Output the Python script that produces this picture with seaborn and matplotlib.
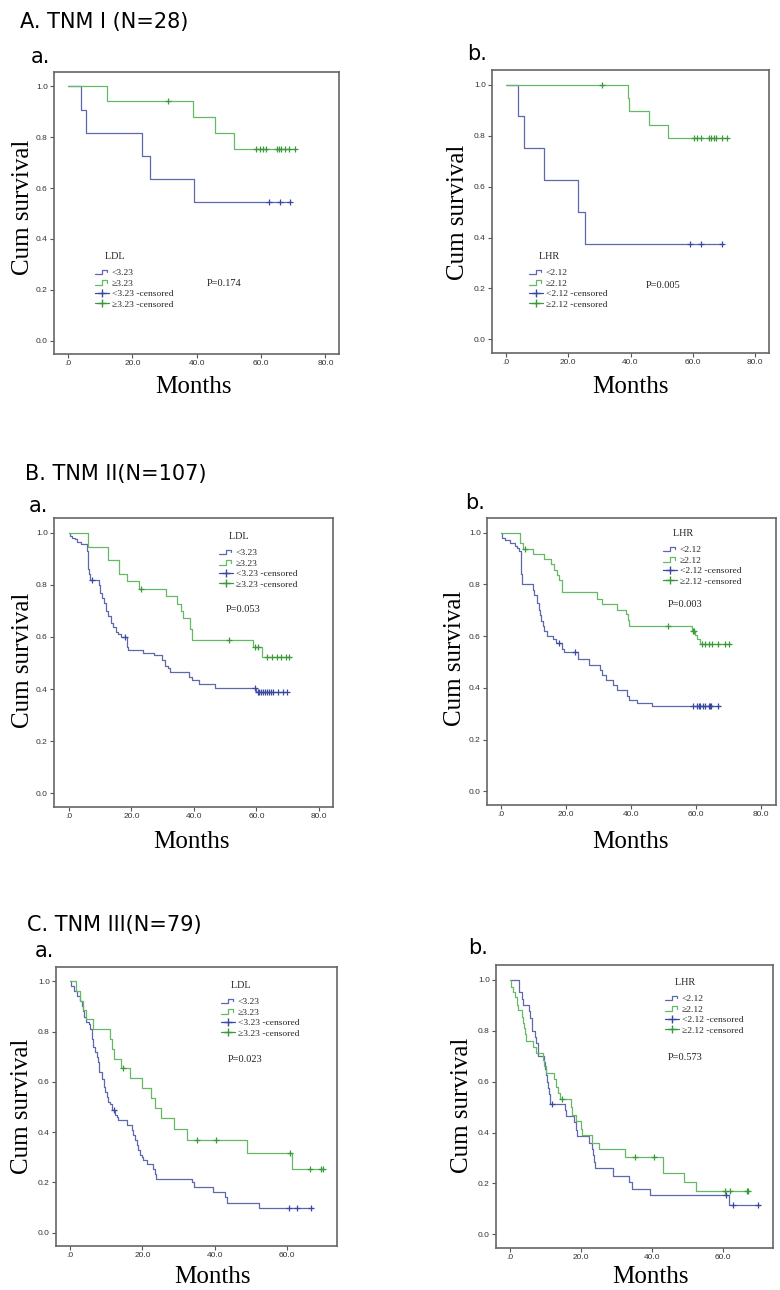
import numpy as np
import pandas as pd
import matplotlib
matplotlib.use("Agg")
import matplotlib.pyplot as plt
import seaborn as sns
from matplotlib.lines import Line2D
from matplotlib.legend_handler import HandlerBase

# ---------------- data ----------------
# Each curve: step start times, survival from that time on, censored times
A_ldl_low_t = [0, 3.9, 5.7, 23.1, 25.4, 39.1, 69.4]
A_ldl_low_s = [1.0, 0.909, 0.818, 0.727, 0.636, 0.545, 0.545]
A_ldl_low_c = [62.5, 66.0, 69.0]
A_ldl_high_t = [0, 12.2, 38.9, 45.7, 51.7, 70.8]
A_ldl_high_s = [1.0, 0.941, 0.878, 0.817, 0.754, 0.754]
A_ldl_high_c = [30.9, 58.5, 59.6, 60.6, 61.4, 64.8, 65.6, 66.3, 67.4, 68.7, 70.5]

A_lhr_low_t = [0, 4.0, 5.7, 12.3, 23.2, 25.5, 69.7]
A_lhr_low_s = [1.0, 0.875, 0.75, 0.625, 0.5, 0.375, 0.375]
A_lhr_low_c = [59.0, 62.8, 69.5]
A_lhr_high_t = [0, 39.1, 39.4, 46.0, 52.2, 71.3]
A_lhr_high_s = [1.0, 0.947, 0.895, 0.842, 0.790, 0.790]
A_lhr_high_c = [31.0, 60.4, 61.5, 62.8, 65.2, 66.0, 66.8, 67.6, 69.5, 71.0]

B_ldl_low_t = [0, 0.2, 0.9, 1.9, 2.7, 4.0, 5.9, 6.0, 6.3, 6.8, 9.6, 10.0, 10.5, 11.3, 11.9,
               12.6, 13.5, 14.2, 15.0, 15.8, 16.5, 18.5, 18.8, 23.8, 27.2, 29.7, 30.7, 31.8,
               32.3, 38.5, 39.3, 41.6, 46.7, 60.0, 69.9]
B_ldl_low_s = [1.0, 0.988, 0.982, 0.976, 0.966, 0.957, 0.93, 0.86, 0.84, 0.82, 0.80, 0.77, 0.75,
               0.73, 0.70, 0.68, 0.655, 0.64, 0.62, 0.61, 0.60, 0.56, 0.55, 0.54, 0.53, 0.51,
               0.49, 0.48, 0.465, 0.448, 0.435, 0.42, 0.405, 0.39, 0.39]
B_ldl_low_c = [7.5, 17.9, 59.5, 60.4, 60.9, 61.4, 62.2, 62.7, 63.3, 64.1, 64.6, 65.2, 67.0, 68.4, 69.7]
B_ldl_high_t = [0, 6.0, 12.4, 16.0, 18.5, 22.5, 31.0, 34.5, 35.7, 36.4, 38.6, 39.4, 58.8, 61.8, 71.0]
B_ldl_high_s = [1.0, 0.947, 0.894, 0.840, 0.815, 0.786, 0.757, 0.728, 0.70, 0.673, 0.63, 0.589,
                0.561, 0.525, 0.525]
B_ldl_high_c = [23.2, 51.3, 59.5, 60.5, 63.5, 65.0, 66.5, 68.0, 69.5, 70.5]

B_lhr_low_t = [0, 0.2, 1.2, 2.8, 4.3, 4.8, 5.6, 6.1, 6.5, 9.8, 10.2, 11.0, 11.7, 12.0, 12.2,
               12.8, 13.3, 14.1, 16.1, 16.9, 18.7, 19.3, 23.8, 27.1, 30.5, 31.0, 32.2, 34.6,
               35.6, 38.7, 39.5, 41.8, 46.6, 67.5]
B_lhr_low_s = [1.0, 0.98, 0.97, 0.96, 0.95, 0.94, 0.93, 0.84, 0.80, 0.78, 0.76, 0.73, 0.70,
               0.68, 0.66, 0.64, 0.62, 0.60, 0.59, 0.575, 0.55, 0.54, 0.51, 0.49, 0.47, 0.45,
               0.43, 0.41, 0.39, 0.37, 0.355, 0.34, 0.328, 0.328]
B_lhr_low_c = [18.0, 22.8, 59.0, 60.4, 60.8, 61.3, 62.1, 62.8, 63.9, 64.4, 64.6, 66.9]
B_lhr_high_t = [0, 5.9, 6.7, 9.8, 13.2, 15.3, 16.3, 17.1, 17.9, 18.9, 29.5, 31.0, 35.8, 38.5,
                39.0, 39.5, 58.9, 59.6, 60.2, 61.3, 70.7]
B_lhr_high_s = [1.0, 0.959, 0.939, 0.918, 0.898, 0.878, 0.857, 0.837, 0.816, 0.769, 0.745,
                0.724, 0.703, 0.684, 0.663, 0.640, 0.62, 0.605, 0.59, 0.569, 0.569]
B_lhr_high_c = [7.4, 51.3, 59.2, 59.5, 61.8, 62.8, 63.9, 64.9, 66.9, 69.0, 70.0]

C_ldl_low_t = [0, 0.2, 1.1, 2.0, 2.8, 3.2, 3.6, 3.9, 4.4, 5.1, 5.5, 6.0, 6.3, 6.9, 7.4, 7.8,
               8.1, 8.7, 9.4, 9.7, 10.1, 10.6, 11.0, 11.5, 12.4, 12.9, 13.3, 15.6, 17.0, 17.5,
               17.9, 18.4, 18.9, 19.3, 19.8, 20.2, 21.2, 23.0, 23.5, 23.7, 33.6, 34.2, 39.6,
               42.8, 43.4, 52.3, 67.2]
C_ldl_low_s = [1.0, 0.98, 0.96, 0.94, 0.92, 0.90, 0.88, 0.86, 0.84, 0.83, 0.81, 0.77, 0.74,
               0.72, 0.70, 0.68, 0.64, 0.61, 0.58, 0.56, 0.54, 0.52, 0.51, 0.49, 0.47, 0.46,
               0.45, 0.43, 0.41, 0.39, 0.37, 0.35, 0.33, 0.31, 0.30, 0.29, 0.275, 0.255, 0.235,
               0.215, 0.20, 0.18, 0.16, 0.14, 0.12, 0.10, 0.10]
C_ldl_low_c = [12.0, 60.5, 62.7, 66.7]
C_ldl_high_t = [0, 1.7, 2.6, 3.5, 4.4, 6.3, 11.0, 11.5, 12.0, 14.0, 16.6, 19.8, 22.3, 23.5,
                25.1, 28.8, 32.2, 48.8, 61.4, 69.9]
C_ldl_high_s = [1.0, 0.96, 0.92, 0.885, 0.85, 0.81, 0.77, 0.73, 0.69, 0.655, 0.615, 0.575,
                0.535, 0.495, 0.455, 0.412, 0.37, 0.318, 0.255, 0.255]
C_ldl_high_c = [14.5, 35.0, 40.3, 60.9, 66.2, 69.5, 69.8]

C_lhr_low_t = [0, 2.6, 3.3, 3.7, 5.4, 5.8, 6.1, 7.0, 7.5, 7.8, 8.0, 9.6, 9.9, 10.3, 10.5,
               10.8, 11.0, 11.2, 15.4, 15.7, 18.0, 18.6, 18.9, 22.3, 23.0, 23.4, 23.7, 24.0,
               29.1, 33.6, 34.4, 39.6, 61.7, 70.3]
C_lhr_low_s = [1.0, 0.95, 0.925, 0.90, 0.875, 0.85, 0.80, 0.775, 0.75, 0.725, 0.70, 0.675,
               0.65, 0.625, 0.60, 0.575, 0.55, 0.512, 0.49, 0.463, 0.44, 0.41, 0.385, 0.36,
               0.335, 0.31, 0.285, 0.26, 0.231, 0.205, 0.18, 0.155, 0.115, 0.115]
C_lhr_low_c = [11.8, 60.9, 62.8, 69.8]
C_lhr_high_t = [0, 0.3, 0.9, 1.4, 1.9, 2.3, 3.3, 3.7, 3.9, 4.2, 4.5, 6.6, 7.3, 9.2, 9.6, 10.3,
                12.4, 13.1, 13.6, 14.2, 17.1, 17.6, 18.6, 19.9, 20.4, 23.2, 25.0, 32.3, 43.1,
                48.9, 52.3, 67.0]
C_lhr_high_s = [1.0, 0.97, 0.95, 0.93, 0.90, 0.88, 0.855, 0.83, 0.81, 0.785, 0.76, 0.735,
                0.71, 0.685, 0.66, 0.635, 0.61, 0.58, 0.555, 0.53, 0.50, 0.47, 0.445, 0.415,
                0.39, 0.36, 0.335, 0.305, 0.24, 0.205, 0.17, 0.17]
C_lhr_high_c = [14.6, 35.1, 40.5, 60.5, 61.9, 66.8, 67.0]

ldl_labels = ["<3.23", "≥3.23", "<3.23 -censored", "≥3.23 -censored"]
lhr_labels = ["<2.12", "≥2.12", "<2.12 -censored", "≥2.12 -censored"]
p_values = ["P=0.174", "P=0.005", "P=0.053", "P=0.003", "P=0.023", "P=0.573"]
section_titles = ["A. TNM I (N=28)", "B. TNM II(N=107)", "C. TNM III(N=79)"]
y_ticks = [0.0, 0.2, 0.4, 0.6, 0.8, 1.0]
y_tick_labels = ["0.0", "0.2", "0.4", "0.6", "0.8", "1.0"]
x_ticks_long = [0, 20, 40, 60, 80]
x_tick_labels_long = [".0", "20.0", "40.0", "60.0", "80.0"]
x_ticks_short = [0, 20, 40, 60]
x_tick_labels_short = [".0", "20.0", "40.0", "60.0"]

# ---------------- style ----------------
sns.set_theme(style="white")
plt.rcParams["font.family"] = ["DejaVu Sans"]
SERIF = ["Liberation Serif", "DejaVu Serif"]
TICKFONT = ["Liberation Sans", "DejaVu Sans"]
BLUE_LINE, BLUE_MARK = "#5d68ad", "#3a48a0"
GREEN_LINE, GREEN_MARK = "#66b966", "#3a9a3a"

W, H = 780, 1290
fig = plt.figure(figsize=(W / 100, H / 100), dpi=100)


def rect(l, t, r, b):
    return [l / W, 1 - b / H, (r - l) / W, (b - t) / H]


def fxy(x, y):
    return x / W, 1 - y / H


def step_at(t, s, c):
    idx = np.searchsorted(np.asarray(t), np.asarray(c), side="right") - 1
    return np.asarray(s)[idx]


class StepHandler(HandlerBase):
    def create_artists(self, legend, orig_handle, xdescent, ydescent, width, height,
                       fontsize, trans):
        x0, y0 = -xdescent, -ydescent
        xs = [x0, x0 + 0.5 * width, x0 + 0.5 * width, x0 + 0.85 * width, x0 + 0.85 * width]
        ys = [y0 + 0.15 * height, y0 + 0.15 * height, y0 + 0.85 * height,
              y0 + 0.85 * height, y0 + 0.45 * height]
        return [Line2D(xs, ys, color=orig_handle.get_color(), lw=0.9, transform=trans)]


panels = [
    dict(r=(54, 72, 339, 354), xlim=(-4.4, 84.2), long=True,
         curves=[(A_ldl_low_t, A_ldl_low_s, A_ldl_low_c), (A_ldl_high_t, A_ldl_high_s, A_ldl_high_c)],
         labels=ldl_labels, ltitle="LDL", leg=(95, 252), p=(207, 284),
         ylab=(23, 207), xlab=(193, 393), sub="a.", subpos=(31, 63)),
    dict(r=(492, 70, 769, 353), xlim=(-4.5, 84.5), long=True,
         curves=[(A_lhr_low_t, A_lhr_low_s, A_lhr_low_c), (A_lhr_high_t, A_lhr_high_s, A_lhr_high_c)],
         labels=lhr_labels, ltitle="LHR", leg=(529, 252), p=(646, 286),
         ylab=(458, 212), xlab=(630, 393), sub="b.", subpos=(467, 60)),
    dict(r=(54, 518, 333, 807), xlim=(-4.8, 84.5), long=True,
         curves=[(B_ldl_low_t, B_ldl_low_s, B_ldl_low_c), (B_ldl_high_t, B_ldl_high_s, B_ldl_high_c)],
         labels=ldl_labels, ltitle="LDL", leg=(219, 532), p=(226, 610),
         ylab=(23, 660), xlab=(191, 848), sub="a.", subpos=(29, 512)),
    dict(r=(487, 518, 776, 805), xlim=(-4.3, 84.6), long=True,
         curves=[(B_lhr_low_t, B_lhr_low_s, B_lhr_low_c), (B_lhr_high_t, B_lhr_high_s, B_lhr_high_c)],
         labels=lhr_labels, ltitle="LHR", leg=(663, 529), p=(668, 605),
         ylab=(455, 658), xlab=(630, 848), sub="b.", subpos=(465, 509)),
    dict(r=(56, 967, 337, 1246), xlim=(-3.9, 73.8), long=False,
         curves=[(C_ldl_low_t, C_ldl_low_s, C_ldl_low_c), (C_ldl_high_t, C_ldl_high_s, C_ldl_high_c)],
         labels=ldl_labels, ltitle="LDL", leg=(221, 981), p=(228, 1059),
         ylab=(22, 1106), xlab=(212, 1283), sub="a.", subpos=(35, 957)),
    dict(r=(496, 965, 773, 1248), xlim=(-3.9, 74.1), long=False,
         curves=[(C_lhr_low_t, C_lhr_low_s, C_lhr_low_c), (C_lhr_high_t, C_lhr_high_s, C_lhr_high_c)],
         labels=lhr_labels, ltitle="LHR", leg=(665, 978), p=(668, 1058),
         ylab=(462, 1105), xlab=(650, 1283), sub="b.", subpos=(468, 954)),
]

for i, pn in enumerate(panels):
    ax = fig.add_axes(rect(*pn["r"]))
    ax.set_facecolor("white")
    for (t, s, c), lc, mc in zip(pn["curves"], [BLUE_LINE, GREEN_LINE], [BLUE_MARK, GREEN_MARK]):
        df = pd.DataFrame({"Months": t, "Cum survival": s})
        sns.lineplot(data=df, x="Months", y="Cum survival", drawstyle="steps-post",
                     estimator=None, sort=False, color=lc, lw=0.9, ax=ax, legend=False)
        cdf = pd.DataFrame({"Months": c, "Cum survival": step_at(t, s, c)})
        sns.scatterplot(data=cdf, x="Months", y="Cum survival", marker="+", s=22,
                        color=mc, linewidth=0.9, ax=ax, legend=False, zorder=3)
    ax.set_xlim(*pn["xlim"])
    ax.set_ylim(-0.053, 1.057)
    if pn["long"]:
        ax.set_xticks(x_ticks_long, labels=x_tick_labels_long)
    else:
        ax.set_xticks(x_ticks_short, labels=x_tick_labels_short)
    ax.set_yticks(y_ticks, labels=y_tick_labels)
    ax.set_xlabel("")
    ax.set_ylabel("")
    ax.tick_params(axis="both", which="both", direction="out", length=3, width=0.8,
                   color="#555555", labelsize=6, labelcolor="#333333", pad=1.5,
                   bottom=True, left=True, top=False, right=False)
    for lab in ax.get_xticklabels() + ax.get_yticklabels():
        lab.set_family(TICKFONT)
    for sp in ax.spines.values():
        sp.set_visible(True)
        sp.set_color("#666666")
        sp.set_linewidth(1.2)

    # legend (SPSS style)
    handles = [Line2D([], [], color=BLUE_LINE), Line2D([], [], color=GREEN_LINE),
               Line2D([], [], color=BLUE_MARK, marker="+", markersize=6, lw=0.9),
               Line2D([], [], color=GREEN_MARK, marker="+", markersize=6, lw=0.9)]
    hmap = {handles[0]: StepHandler(), handles[1]: StepHandler()}
    lx, ly = fxy(*pn["leg"])
    leg = ax.legend(handles, pn["labels"], handler_map=hmap, title="    " + pn["ltitle"],
                    loc="upper left", bbox_to_anchor=(lx, ly), bbox_transform=fig.transFigure,
                    frameon=False, borderpad=0, borderaxespad=0, handlelength=1.45,
                    handletextpad=0.3, labelspacing=0.2, numpoints=1, alignment="left",
                    prop={"family": SERIF, "size": 6.8},
                    title_fontproperties={"family": SERIF, "size": 7.3})
    leg._legend_box.sep = 5.5

    px_, py_ = fxy(*pn["p"])
    fig.text(px_, py_, p_values[i], ha="left", va="center", family=SERIF, fontsize=7.5,
             color="#222222")
    yx, yy = fxy(*pn["ylab"])
    fig.text(yx, yy, "Cum survival", rotation=90, ha="center", va="center", family=SERIF,
             fontsize=18, color="black")
    xx, xy = fxy(*pn["xlab"])
    fig.text(xx, xy, "Months", ha="center", va="baseline", family=SERIF, fontsize=18,
             color="black")
    sx, sy = fxy(*pn["subpos"])
    fig.text(sx, sy, pn["sub"], ha="left", va="baseline", fontsize=15, color="black")

for title, (tx, ty) in zip(section_titles, [(20, 28), (25, 480), (27, 931)]):
    x, y = fxy(tx, ty)
    fig.text(x, y, title, ha="left", va="baseline", fontsize=15, color="black")

fig.savefig("out.png", dpi=100, facecolor="white")
